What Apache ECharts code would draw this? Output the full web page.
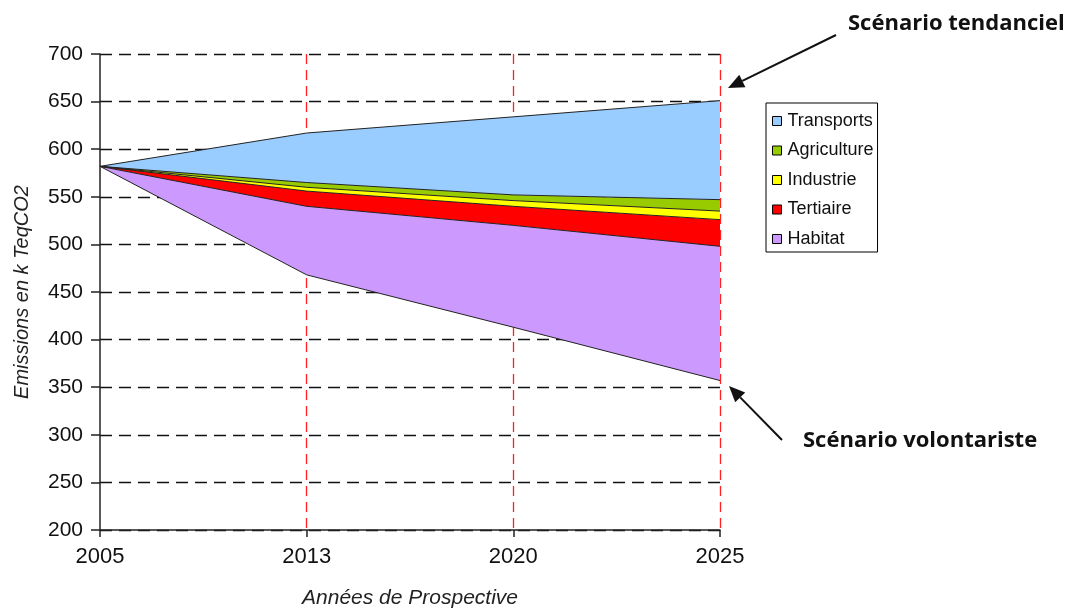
<!DOCTYPE html>
<html>
<head>
<meta charset="utf-8">
<script src="https://cdn.jsdelivr.net/npm/echarts@6/dist/echarts.min.js"></script>
<style>
  html, body { margin: 0; padding: 0; background: #fff; }
  #chart { width: 1071px; height: 610px; }
</style>
</head>
<body>
<div id="chart"></div>
<script>
// Années de prospective
const years = ['2005', '2013', '2020', '2025'];

// Bas du graphique : scénario volontariste (série de base, non remplie)
const volontariste = [582, 468, 413, 357];
// Écarts par secteur, empilés au-dessus
const habitat = [0, 72, 107, 141];
const tertiaire = [0, 16, 20, 28];
const industrie = [0, 4, 6, 9];
const agriculture = [0, 5, 6, 12];
const transports = [0, 52, 82, 104];

const legendOrder = ['Transports', 'Agriculture', 'Industrie', 'Tertiaire', 'Habitat'];

const chart = echarts.init(document.getElementById('chart'));

function band(name, data, color) {
    return {
        name: name,
        type: 'line',
        stack: 'total',
        data: data,
        symbol: 'none',
        lineStyle: { color: '#222', width: 1 },
        itemStyle: { color: color, borderColor: '#000', borderWidth: 1 },
        areaStyle: { color: color, opacity: 1 }
    };
}

// flèche d'annotation : trait + pointe pleine
function arrow(x1, y1, x2, y2) {
    const a = Math.atan2(y2 - y1, x2 - x1);
    const len = 16, w = 7;
    const bx = x2 - len * Math.cos(a), by = y2 - len * Math.sin(a);
    const px = -Math.sin(a) * w, py = Math.cos(a) * w;
    return [
        { type: 'line', shape: { x1: x1, y1: y1, x2: bx, y2: by }, style: { stroke: '#111', lineWidth: 2 } },
        { type: 'polygon', shape: { points: [[x2, y2], [bx + px, by + py], [bx - px, by - py]] }, style: { fill: '#111' } }
    ];
}

const option = {
    backgroundColor: '#fff',
    animation: false,
    grid: { left: 100, right: 351, top: 54, bottom: 80, outerBoundsMode: 'none', containLabel: false },
    legend: {
        data: legendOrder,
        orient: 'vertical',
        left: 766,
        top: 103,
        padding: [8, 4, 3, 6],
        itemGap: 9.5,
        itemWidth: 9,
        itemHeight: 9,
        icon: 'rect',
        borderColor: '#000',
        borderWidth: 1,
        backgroundColor: '#fff',
        itemStyle: { borderColor: '#000', borderWidth: 1 },
        textStyle: { fontFamily: 'Liberation Sans, Arial', fontSize: 18, lineHeight: 20, color: '#111', padding: [0, 0, 0, 1] }
    },
    xAxis: {
        type: 'category',
        data: years,
        boundaryGap: false,
        name: 'Années de Prospective',
        nameLocation: 'middle',
        nameGap: 58,
        nameTextStyle: { fontFamily: 'Liberation Sans, Arial', fontStyle: 'italic', fontSize: 21, color: '#222' },
        axisLine: { lineStyle: { color: '#222', width: 1.5 } },
        axisTick: { show: true, length: 7, lineStyle: { color: '#222', width: 1.5 } },
        axisLabel: { fontFamily: 'Liberation Sans, Arial', fontSize: 22, color: '#111', margin: 16 },
        splitLine: {
            show: true,
            interval: function (idx) { return idx > 0; },
            lineStyle: { color: '#ff2020', type: [10, 6], width: 1.3 }
        }
    },
    yAxis: {
        type: 'value',
        min: 200,
        max: 700,
        interval: 50,
        name: 'Emissions en k TeqCO2',
        nameLocation: 'middle',
        nameGap: 68,
        nameTextStyle: { fontFamily: 'Liberation Sans, Arial', fontStyle: 'italic', fontSize: 20, color: '#222' },
        axisLine: { show: true, lineStyle: { color: '#222', width: 1.5 } },
        axisTick: { show: true, length: 9, lineStyle: { color: '#222', width: 1.5 } },
        axisLabel: { fontFamily: 'Liberation Sans, Arial', fontSize: 21, color: '#111', margin: 17 },
        splitLine: { show: true, lineStyle: { color: '#111', type: [12, 7], width: 1.3 } }
    },
    series: [
        {
            name: 'Volontariste',
            type: 'line',
            stack: 'total',
            data: volontariste,
            symbol: 'none',
            lineStyle: { color: '#222', width: 1 },
            areaStyle: { opacity: 0 }
        },
        band('Habitat', habitat, '#cc99ff'),
        band('Tertiaire', tertiaire, '#ff0000'),
        band('Industrie', industrie, '#ffff00'),
        band('Agriculture', agriculture, '#99cc00'),
        band('Transports', transports, '#99ccff')
    ],
    graphic: [
        {
            type: 'text', left: 848, top: 13,
            style: { text: 'Scénario tendanciel', font: 'bold 22px "Open Sans", Lato, sans-serif', fill: '#111' }
        },
        {
            type: 'text', left: 803, top: 430,
            style: { text: 'Scénario volontariste', font: 'bold 22px "Open Sans", Lato, sans-serif', fill: '#111' }
        }
    ].concat(arrow(836, 35, 728, 88), arrow(782, 440, 729, 386))
};

chart.setOption(option);
</script>
</body>
</html>
